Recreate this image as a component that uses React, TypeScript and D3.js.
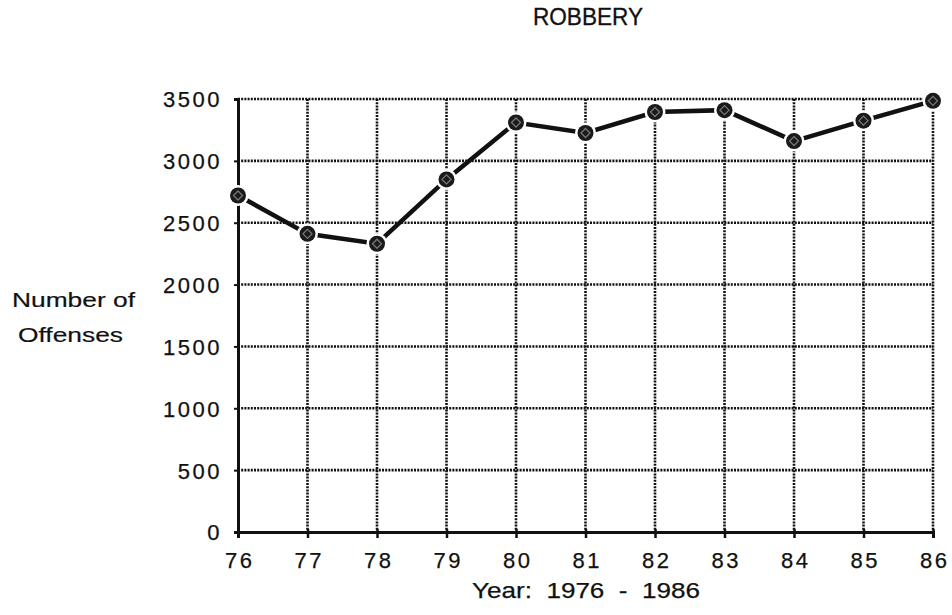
import * as d3 from "d3";
import { useEffect, useRef } from "react";

const years = ["76", "77", "78", "79", "80", "81", "82", "83", "84", "85", "86"];
const offenses = [2720, 2410, 2330, 2850, 3310, 3225, 3395, 3410, 3160, 3325, 3485];
const yTicks = [0, 500, 1000, 1500, 2000, 2500, 3000, 3500];

const title = "ROBBERY";
const xTitle = "Year:  1976  -  1986";
const yTitleLines = ["Number of", "Offenses"];

function App() {
  const ref = useRef(null);

  useEffect(() => {
    document.body.style.margin = "0";
    document.body.style.overflow = "hidden";

    const width = 952;
    const height = 615;
    const margin = { top: 99, right: 19, bottom: 83, left: 238 };
    const innerW = width - margin.left - margin.right;
    const innerH = height - margin.top - margin.bottom;

    const root = d3.select(ref.current);
    root.selectAll("*").remove();

    const svg = root
      .append("svg")
      .attr("width", width)
      .attr("height", height)
      .style("display", "block")
      .style("font-family", "'Liberation Sans', Arial, sans-serif");

    svg.append("rect").attr("width", width).attr("height", height).attr("fill", "#fff");

    const g = svg.append("g").attr("transform", `translate(${margin.left},${margin.top})`);

    const xScale = d3.scalePoint().domain(years).range([0, innerW]);
    const yScale = d3.scaleLinear().domain([0, 3500]).range([innerH, 0]);

    // grid (zigzag look via dashes)
    g.append("g")
      .selectAll("line")
      .data(yTicks.filter((d) => d > 0))
      .join("line")
      .attr("x1", 0)
      .attr("x2", innerW)
      .attr("y1", (d) => yScale(d))
      .attr("y2", (d) => yScale(d))
      .attr("stroke", "#111")
      .attr("stroke-width", 2.6)
      .attr("stroke-dasharray", "2,1.2");

    g.append("g")
      .selectAll("line")
      .data(years.slice(1))
      .join("line")
      .attr("x1", (d) => xScale(d))
      .attr("x2", (d) => xScale(d))
      .attr("y1", 0)
      .attr("y2", innerH)
      .attr("stroke", "#111")
      .attr("stroke-width", 2.6)
      .attr("stroke-dasharray", "2,1.2");

    const tickText = (sel) =>
      sel
        .attr("fill", "#111")
        .attr("stroke", "#111")
        .attr("stroke-width", 0.25)
        .style("font-family", "'Liberation Sans', Arial, sans-serif")
        .style("font-size", "22px")
        .style("letter-spacing", "2.5px");

    // x axis
    const xAxis = g
      .append("g")
      .attr("transform", `translate(0,${innerH})`)
      .call(d3.axisBottom(xScale).tickSize(6).tickPadding(14));
    xAxis.select(".domain").attr("stroke", "#111").attr("stroke-width", 3);
    xAxis.selectAll(".tick line").attr("stroke", "#111").attr("stroke-width", 2.5).attr("y1", -3);
    xAxis.selectAll(".tick text").call(tickText).attr("dx", "1.2px");

    // y axis
    const yAxis = g
      .append("g")
      .call(d3.axisLeft(yScale).tickValues(yTicks).tickFormat(d3.format("d")).tickSize(4).tickPadding(12));
    yAxis.select(".domain").attr("stroke", "#111").attr("stroke-width", 3);
    yAxis.selectAll(".tick line").attr("stroke", "#111").attr("stroke-width", 2);
    yAxis.selectAll(".tick text").call(tickText).attr("dy", "0.36em");

    // line
    const line = d3
      .line()
      .x((d, i) => xScale(years[i]))
      .y((d) => yScale(d));

    g.append("path")
      .datum(offenses)
      .attr("fill", "none")
      .attr("stroke", "#111")
      .attr("stroke-width", 4.5)
      .attr("d", line);

    // markers
    const pts = g
      .append("g")
      .selectAll("g")
      .data(offenses)
      .join("g")
      .attr("transform", (d, i) => `translate(${xScale(years[i])},${yScale(d)})`);
    pts.append("circle").attr("r", 10.5).attr("fill", "#fff");
    pts.append("circle").attr("r", 8).attr("fill", "#1a1a1a");
    pts
      .append("path")
      .attr("d", "M0,-4.5L4.5,0L0,4.5L-4.5,0Z")
      .attr("fill", "none")
      .attr("stroke", "#777")
      .attr("stroke-width", 1.3);

    // titles
    svg
      .append("text")
      .attr("x", 533)
      .attr("y", 25)
      .attr("fill", "#111")
      .attr("stroke", "#111")
      .attr("stroke-width", 0.3)
      .attr("textLength", 110)
      .attr("lengthAdjust", "spacingAndGlyphs")
      .style("font-size", "23px")
      .text(title);

    svg
      .append("text")
      .attr("x", 472)
      .attr("y", 598)
      .attr("fill", "#111")
      .attr("stroke", "#111")
      .attr("stroke-width", 0.25)
      .attr("textLength", 228)
      .attr("lengthAdjust", "spacingAndGlyphs")
      .style("font-size", "22px")
      .style("white-space", "pre")
      .text(xTitle);

    const yTitleX = [12, 18];
    const yTitleW = [123, 105];
    svg
      .append("g")
      .selectAll("text")
      .data(yTitleLines)
      .join("text")
      .attr("x", (d, i) => yTitleX[i])
      .attr("y", (d, i) => 307 + i * 35)
      .attr("fill", "#111")
      .attr("stroke", "#111")
      .attr("stroke-width", 0.2)
      .attr("textLength", (d, i) => yTitleW[i])
      .attr("lengthAdjust", "spacingAndGlyphs")
      .style("font-size", "21px")
      .text((d) => d);
  }, []);

  return <div ref={ref}></div>;
}

export default App;
